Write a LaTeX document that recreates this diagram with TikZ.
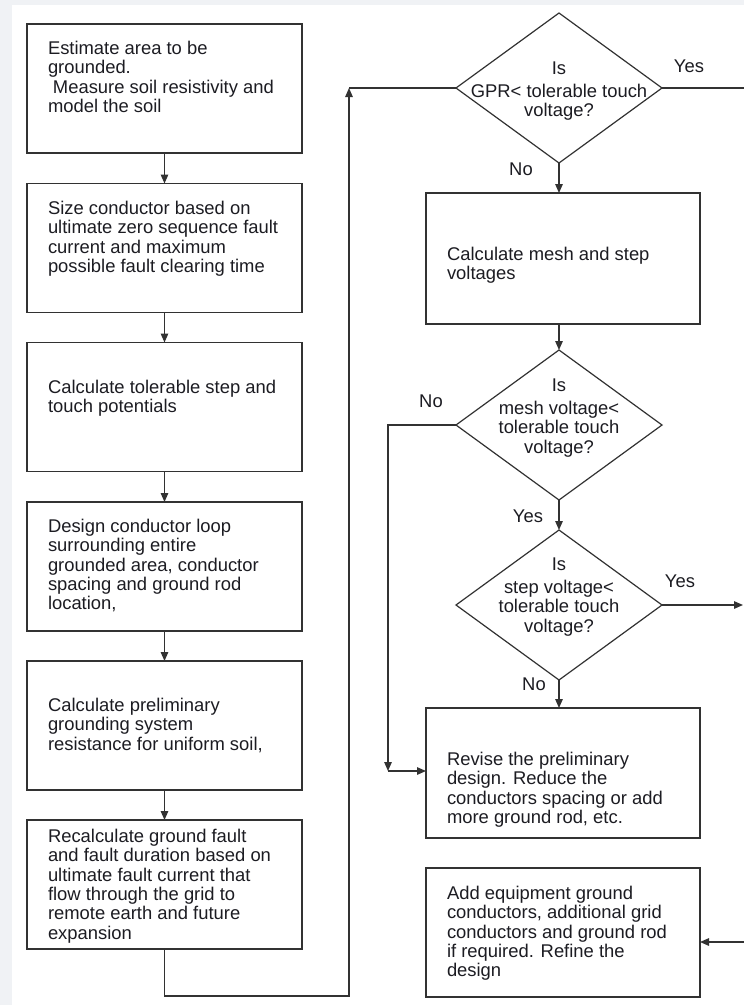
\documentclass[tikz,border=0pt]{standalone}
\usepackage{fontspec}
\setmainfont{Liberation Sans}
\usepackage{xcolor}
\usetikzlibrary{shapes.geometric,arrows.meta}
\definecolor{pagegrey}{RGB}{240,242,245}
\definecolor{linegrey}{RGB}{50,50,50}
\definecolor{inkgrey}{RGB}{28,28,34}

\begin{document}
\begin{tikzpicture}[x=1pt,y=-1pt,
  every node/.style={font=\fontsize{18.4}{19.4}\selectfont, text=inkgrey, inner sep=0pt, outer sep=0pt},
  stepbox/.style={draw=linegrey, line width=1.3pt, minimum width=275pt, minimum height=129pt},
  testbox/.style={diamond, draw=linegrey, line width=1.2pt, minimum width=206pt, minimum height=150pt},
  boxtext/.style={anchor=north west, align=left},
  testtext/.style={anchor=north, align=center},
  flow/.style={draw=linegrey, line width=1.3pt},
  arr/.style={flow, -{Triangle[length=9pt,width=7.5pt]}}]
\fill[pagegrey] (0,0) rectangle (744,1005);
\fill[white] (12,5) rectangle (744,1005);
\useasboundingbox (0,0) rectangle (744,1005);
% left column
\node[stepbox] (b1) at (164.5,88.5) {};
\node[stepbox] (b2) at (164.5,248) {};
\node[stepbox] (b3) at (164.5,407) {};
\node[stepbox] (b4) at (164.5,566.5) {};
\node[stepbox] (b5) at (164.5,725.5) {};
\node[stepbox] (b6) at (164.5,884.5) {};
\node[boxtext] (t1) at (48,41) {Estimate area to be\\grounded.\\\hspace*{5pt}Measure soil resistivity and\\model the soil};
\node[boxtext] (t2) at (48,201) {Size conductor based on\\ultimate zero sequence fault\\current and maximum\\possible fault clearing time};
\node[boxtext] (t3) at (48,380) {Calculate tolerable step and\\touch potentials};
\node[boxtext] (t4) at (48,519) {Design conductor loop\\surrounding entire\\grounded area, conductor\\spacing and ground rod\\location,};
\node[boxtext] (t5) at (48,698) {Calculate preliminary\\grounding system\\resistance for uniform soil,};
\node[boxtext] (t6) at (48,829) {Recalculate ground fault\\and fault duration based on\\ultimate fault current that\\flow through the grid to\\remote earth and future\\expansion};
% right column
\node[testbox] (d1) at (559,88) {};
\node[stepbox, minimum width=274pt, minimum height=131pt] (b7) at (563,258.5) {};
\node[testbox] (d2) at (559,425) {};
\node[testbox] (d3) at (559,605) {};
\node[stepbox, minimum width=274pt, minimum height=130pt] (b8) at (563,773) {};
\node[stepbox, minimum width=274pt] (b9) at (563,932.5) {};
\node[testtext] (q1) at (559,62) {Is\\[3.5pt]GPR< tolerable touch\\voltage?};
\node[testtext] (q2) at (559,379) {Is\\[3.5pt]mesh voltage<\\tolerable touch\\voltage?};
\node[testtext] (q3) at (559,558) {Is\\[3.5pt]step voltage<\\tolerable touch\\voltage?};
\node[boxtext] (t7) at (447,247) {Calculate mesh and step\\voltages};
\node[boxtext] (t8) at (447,752) {Revise the preliminary\\design. Reduce the\\conductors spacing or add\\more ground rod, etc.};
\node[boxtext] (t9) at (447,886) {Add equipment ground\\conductors, additional grid\\conductors and ground rod\\if required. Refine the\\design};
% answers
\node[anchor=base] (yes1) at (689,72) {Yes};
\node[anchor=base] (no1) at (521,175) {No};
\node[anchor=base] (no2) at (431,407) {No};
\node[anchor=base] (yes2) at (528,522) {Yes};
\node[anchor=base] (yes3) at (680,587) {Yes};
\node[anchor=base] (no3) at (534,690) {No};
% connectors
\draw[arr] (b1.south) -- (b2.north);
\draw[arr] (b2.south) -- (b3.north);
\draw[arr] (b3.south) -- (b4.north);
\draw[arr] (b4.south) -- (b5.north);
\draw[arr] (b5.south) -- (b6.north);
\coordinate (lp) at (349,996);
\coordinate (up) at (349,88);
\draw[arr] (b6.south) |- (lp) -- (up);
\draw[flow] (up) -- (d1.west);
\coordinate (yesout) at (744,88);
\draw[flow] (d1.east) -- (yesout);
\draw[arr] (d1.south) -- (d1.south |- b7.north);
\draw[arr] (d1.south |- b7.south) -- (d2.north);
\draw[arr] (d2.south) -- (d3.north);
\draw[arr] (d3.south) -- (d3.south |- b8.north);
\coordinate (nobend) at (388,771);
\draw[arr] (d2.west) -| (nobend);
\draw[arr] (nobend) -- (nobend -| b8.west);
\coordinate (yesend) at (743,605);
\draw[arr] (d3.east) -- (yesend);
\coordinate (backin) at (744,942);
\draw[arr] (backin) -- (backin -| b9.east);
\end{tikzpicture}
\end{document}
